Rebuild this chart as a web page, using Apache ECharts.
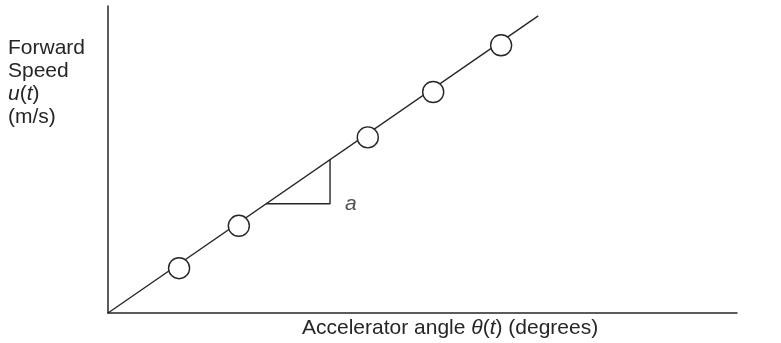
<!DOCTYPE html>
<html>
<head>
<meta charset="utf-8">
<style>
  html, body { margin: 0; padding: 0; background: #fff; }
  #chart { width: 781px; height: 343px; }
</style>
<script src="https://cdn.jsdelivr.net/npm/echarts@6/dist/echarts.min.js"></script>
</head>
<body>
<div id="chart"></div>
<script>
// fitted line, from origin to its end
const lineX = [0, 68.4]
const lineY = [0, 48.4]

// measured points (circles)
const pointX = [11.3, 20.8, 41.3, 51.7, 62.5]
const pointY = [7.3, 14.2, 28.6, 36.0, 43.6]

// slope triangle corners
const triX = [25.1, 35.3, 35.3]
const triY = [17.8, 17.8, 25.0]

// slope label
const slopeLabel = 'a'
const slopeLabelPos = [38.6, 17.8]

const chart = echarts.init(document.getElementById('chart'))

const ink = '#262626'
const font = 'Liberation Sans, Arial, sans-serif'

chart.setOption({
  animation: false,
  title: [
    {
      text: 'Forward\nSpeed\n{i|u}({i|t})\n(m/s)',
      left: 3,
      top: 32,
      textStyle: {
        fontFamily: font,
        fontSize: 21,
        fontWeight: 'normal',
        color: ink,
        lineHeight: 23,
        rich: {
          i: { fontStyle: 'italic', fontFamily: font, fontSize: 21, color: ink, lineHeight: 23 }
        }
      }
    },
    {
      text: 'Accelerator angle {i|θ}({i|t}) (degrees)',
      left: 297,
      top: 313,
      textStyle: {
        fontFamily: font,
        fontSize: 21,
        fontWeight: 'normal',
        color: ink,
        rich: {
          i: { fontStyle: 'italic', fontFamily: font, fontSize: 21, color: ink }
        }
      }
    }
  ],
  grid: { left: 108, right: 44, top: 6, bottom: 30 },
  xAxis: {
    type: 'value',
    min: 0,
    max: 100,
    axisLine: { show: true, onZero: false, lineStyle: { color: ink, width: 1.5 } },
    axisTick: { show: false },
    axisLabel: { show: false },
    splitLine: { show: false }
  },
  yAxis: {
    type: 'value',
    min: 0,
    max: 50,
    axisLine: { show: true, onZero: false, lineStyle: { color: ink, width: 1.5 } },
    axisTick: { show: false },
    axisLabel: { show: false },
    splitLine: { show: false }
  },
  series: [
    {
      type: 'line',
      data: lineX.map((x, i) => [x, lineY[i]]),
      showSymbol: false,
      lineStyle: { color: ink, width: 1.4 },
      z: 2
    },
    {
      type: 'line',
      data: triX.map((x, i) => [x, triY[i]]),
      showSymbol: false,
      lineStyle: { color: ink, width: 1.4 },
      z: 2
    },
    {
      type: 'scatter',
      data: pointX.map((x, i) => [x, pointY[i]]),
      symbol: 'circle',
      symbolSize: 21,
      itemStyle: { color: '#ffffff', opacity: 1, borderColor: ink, borderWidth: 1.4 },
      z: 5
    },
    {
      type: 'scatter',
      data: [slopeLabelPos],
      symbolSize: 0,
      label: {
        show: true,
        position: 'inside',
        formatter: slopeLabel,
        fontFamily: font,
        fontStyle: 'italic',
        fontSize: 21,
        color: ink
      },
      z: 6
    }
  ]
})
</script>
</body>
</html>
